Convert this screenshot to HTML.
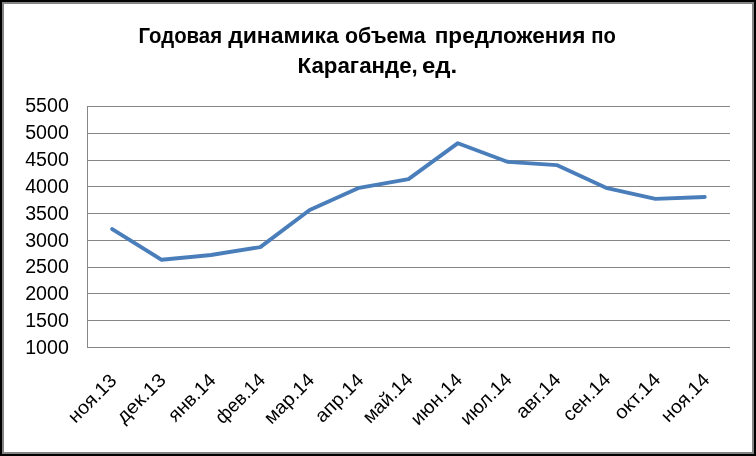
<!DOCTYPE html>
<html lang="ru"><head><meta charset="utf-8"><title>Годовая динамика объема предложения по Караганде, ед.</title>
<style>
html,body{margin:0;padding:0;background:#fff;}
body{width:756px;height:456px;overflow:hidden;font-family:"Liberation Sans",sans-serif;}
svg{display:block;}
text{font-family:"Liberation Sans",sans-serif;fill:#000;}
.t{font-weight:bold;font-size:22px;}
.y{font-size:19.5px;}
.x{font-size:19px;}
</style></head><body>
<svg width="756" height="456" viewBox="0 0 756 456" style="will-change:transform">
<rect x="0" y="0" width="756" height="456" fill="#000"/>
<rect x="2" y="2" width="752" height="452" fill="#848484"/>
<rect x="4" y="4" width="748" height="448" fill="#fff"/>
<g stroke="#868686" stroke-width="1" shape-rendering="crispEdges">
<line x1="87" y1="106.5" x2="730" y2="106.5"/>
<line x1="87" y1="133.5" x2="730" y2="133.5"/>
<line x1="87" y1="160.5" x2="730" y2="160.5"/>
<line x1="87" y1="186.5" x2="730" y2="186.5"/>
<line x1="87" y1="213.5" x2="730" y2="213.5"/>
<line x1="87" y1="240.5" x2="730" y2="240.5"/>
<line x1="87" y1="267.5" x2="730" y2="267.5"/>
<line x1="87" y1="293.5" x2="730" y2="293.5"/>
<line x1="87" y1="320.5" x2="730" y2="320.5"/>
<line x1="87" y1="347.5" x2="730" y2="347.5"/>
<line x1="87.5" y1="106" x2="87.5" y2="348"/>
</g>
<polyline points="112.2,229.1 161.6,259.8 211.0,255.0 260.3,247.1 309.7,210.0 359.1,187.8 408.5,179.1 457.9,143.2 507.3,161.8 556.7,165.1 606.0,187.8 655.4,198.9 704.8,197.0" fill="none" stroke="#4a7ebb" stroke-width="3.9" stroke-linecap="round" stroke-linejoin="round"/>
<text class="t" x="138.52" y="42.90" textLength="83.58" lengthAdjust="spacingAndGlyphs">Годовая</text>
<text class="t" x="228.15" y="42.90" textLength="110.71" lengthAdjust="spacingAndGlyphs">динамика</text>
<text class="t" x="345.00" y="42.90" textLength="80.60" lengthAdjust="spacingAndGlyphs">объема</text>
<text class="t" x="434.74" y="42.90" textLength="150.66" lengthAdjust="spacingAndGlyphs">предложения</text>
<text class="t" x="591.17" y="42.90" textLength="24.63" lengthAdjust="spacingAndGlyphs">по</text>
<text class="t" x="297.52" y="72.70" textLength="120.31" lengthAdjust="spacingAndGlyphs">Караганде,</text>
<text class="t" x="421.98" y="72.70" textLength="35.20" lengthAdjust="spacingAndGlyphs">ед.</text>
<text class="y" x="25.20" y="112.00" textLength="43.60" lengthAdjust="spacingAndGlyphs">5500</text>
<text class="y" x="25.20" y="139.00" textLength="43.60" lengthAdjust="spacingAndGlyphs">5000</text>
<text class="y" x="25.20" y="166.00" textLength="43.60" lengthAdjust="spacingAndGlyphs">4500</text>
<text class="y" x="25.20" y="193.00" textLength="43.60" lengthAdjust="spacingAndGlyphs">4000</text>
<text class="y" x="25.20" y="220.00" textLength="43.60" lengthAdjust="spacingAndGlyphs">3500</text>
<text class="y" x="25.20" y="247.00" textLength="43.60" lengthAdjust="spacingAndGlyphs">3000</text>
<text class="y" x="25.20" y="273.00" textLength="43.60" lengthAdjust="spacingAndGlyphs">2500</text>
<text class="y" x="25.20" y="300.00" textLength="43.60" lengthAdjust="spacingAndGlyphs">2000</text>
<text class="y" x="25.20" y="327.00" textLength="43.60" lengthAdjust="spacingAndGlyphs">1500</text>
<text class="y" x="25.20" y="354.00" textLength="43.60" lengthAdjust="spacingAndGlyphs">1000</text>
<text class="x" text-anchor="end" transform="translate(117.84,381.64) rotate(-45)" textLength="59.88" lengthAdjust="spacingAndGlyphs">ноя.13</text>
<text class="x" text-anchor="end" transform="translate(167.01,381.04) rotate(-45)" textLength="61.00" lengthAdjust="spacingAndGlyphs">дек.13</text>
<text class="x" text-anchor="end" transform="translate(216.91,381.35) rotate(-45)" textLength="58.56" lengthAdjust="spacingAndGlyphs">янв.14</text>
<text class="x" text-anchor="end" transform="translate(266.28,381.15) rotate(-45)" textLength="61.59" lengthAdjust="spacingAndGlyphs">фев.14</text>
<text class="x" text-anchor="end" transform="translate(315.53,381.10) rotate(-45)" textLength="62.18" lengthAdjust="spacingAndGlyphs">мар.14</text>
<text class="x" text-anchor="end" transform="translate(364.70,381.24) rotate(-45)" textLength="59.72" lengthAdjust="spacingAndGlyphs">апр.14</text>
<text class="x" text-anchor="end" transform="translate(413.80,380.76) rotate(-45)" textLength="61.68" lengthAdjust="spacingAndGlyphs">май.14</text>
<text class="x" text-anchor="end" transform="translate(463.36,381.06) rotate(-45)" textLength="63.76" lengthAdjust="spacingAndGlyphs">июн.14</text>
<text class="x" text-anchor="end" transform="translate(512.95,380.83) rotate(-45)" textLength="63.87" lengthAdjust="spacingAndGlyphs">июл.14</text>
<text class="x" text-anchor="end" transform="translate(561.94,380.73) rotate(-45)" textLength="54.81" lengthAdjust="spacingAndGlyphs">авг.14</text>
<text class="x" text-anchor="end" transform="translate(611.72,380.79) rotate(-45)" textLength="58.61" lengthAdjust="spacingAndGlyphs">сен.14</text>
<text class="x" text-anchor="end" transform="translate(661.53,380.72) rotate(-45)" textLength="56.72" lengthAdjust="spacingAndGlyphs">окт.14</text>
<text class="x" text-anchor="end" transform="translate(710.68,381.13) rotate(-45)" textLength="59.57" lengthAdjust="spacingAndGlyphs">ноя.14</text>
</svg>
</body></html>
